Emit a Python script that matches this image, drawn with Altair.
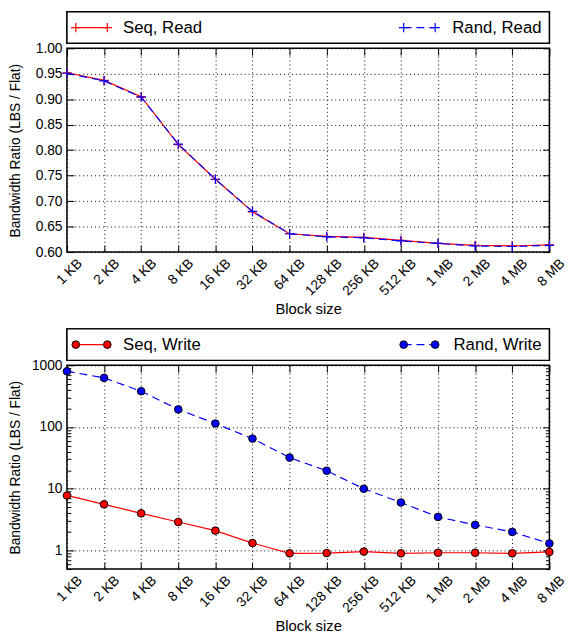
import altair as alt
import pandas as pd

# ---------------- data ----------------
block_sizes = ["1 KB", "2 KB", "4 KB", "8 KB", "16 KB", "32 KB", "64 KB",
               "128 KB", "256 KB", "512 KB", "1 MB", "2 MB", "4 MB", "8 MB"]
seq_read = [0.952, 0.937, 0.905, 0.811, 0.743, 0.679, 0.636,
            0.631, 0.629, 0.623, 0.617, 0.613, 0.612, 0.614]
rand_read = [0.951, 0.936, 0.904, 0.812, 0.743, 0.680, 0.636,
             0.630, 0.628, 0.622, 0.617, 0.612, 0.611, 0.613]
seq_write = [7.8, 5.6, 4.0, 2.9, 2.1, 1.32, 0.90,
             0.91, 0.96, 0.90, 0.92, 0.92, 0.90, 0.95]
rand_write = [800, 625, 380, 193, 114, 65, 32,
              19.6, 10, 6.0, 3.5, 2.6, 2.0, 1.3]
read_names = ["Seq, Read", "Rand, Read"]
write_names = ["Seq, Write", "Rand, Write"]
read_ticks = [0.60, 0.65, 0.70, 0.75, 0.80, 0.85, 0.90, 0.95, 1.00]
read_domain = [0.60, 1.00]
write_ticks = [0.5, 0.6, 0.7, 0.8, 0.9,
               1, 2, 3, 4, 5, 6, 7, 8, 9,
               10, 20, 30, 40, 50, 60, 70, 80, 90,
               100, 200, 300, 400, 500, 600, 700, 800, 900, 1000]
write_domain = [0.5, 1000]
x_title = "Block size"
y_title = "Bandwidth Ratio (LBS / Flat)"

# ---------------- style ----------------
W, H = 490, 207
FONT = "Liberation Sans"
RED, BLUE = "#ff0000", "#0000ff"
PLUS = "M-1,0L1,0M0,-1L0,1"
MAJOR_TEST = "abs(log(datum.value)/LN10 - round(log(datum.value)/LN10)) < 1e-6"


def panel(seq_vals, rand_vals, names, yscale, yticks, ylog, marker):
    df_seq = pd.DataFrame({"block": block_sizes, "value": seq_vals, "series": names[0]})
    df_rand = pd.DataFrame({"block": block_sizes, "value": rand_vals, "series": names[1]})

    xsc = alt.Scale(type="point", padding=0, domain=block_sizes)

    if ylog:
        ylab_axis = dict(values=yticks, labelExpr=f"({MAJOR_TEST}) ? format(datum.value, 'd') : ''",
                         gridOpacity={"condition": {"test": MAJOR_TEST, "value": 1}, "value": 0})
        tick_size = {"condition": {"test": MAJOR_TEST, "value": 7}, "value": 4}
    else:
        ylab_axis = dict(values=yticks, format=".2f")
        tick_size = 7

    # axes with labels + grid
    x_main = alt.Axis(title=x_title, labelAngle=-45, labelAlign="right", labelBaseline="middle",
                      labelOffset=13, labelPadding=9, ticks=False, domain=False,
                      grid=True, gridDash=[1, 3], gridColor="black", gridWidth=1,
                      labelFont=FONT, labelFontSize=14, labelColor="black",
                      titleFont=FONT, titleFontSize=15, titleFontWeight="normal",
                      titleColor="black", titlePadding=4)
    y_main = alt.Axis(title=y_title, ticks=False, domain=False, labelPadding=5,
                      minExtent=38, maxExtent=38,
                      grid=True, gridDash=[1, 3], gridColor="black", gridWidth=1,
                      labelFont=FONT, labelFontSize=14, labelColor="black",
                      titleFont=FONT, titleFontSize=14, titleFontWeight="normal",
                      titleColor="black", titlePadding=7, **ylab_axis)
    # inward ticks (bottom & left), drawn by opposite-orient axes moved across the plot
    x_t1 = alt.Axis(orient="top", offset=-H, labels=False, domain=False, grid=False,
                    title=None, tickSize=7, tickColor="black")
    y_t1 = alt.Axis(orient="right", offset=-W, labels=False, domain=False, grid=False,
                    title=None, tickSize=tick_size, tickColor="black", values=yticks)
    # inward ticks (top & right)
    x_t2 = alt.Axis(orient="bottom", offset=-H, labels=False, domain=False, grid=False,
                    title=None, tickSize=7, tickColor="black")
    y_t2 = alt.Axis(orient="left", offset=-W, labels=False, domain=False, grid=False,
                    title=None, tickSize=tick_size, tickColor="black", values=yticks)

    def enc(xaxis, yaxis):
        return dict(x=alt.X("block:N", scale=xsc, axis=xaxis),
                    y=alt.Y("value:Q", scale=yscale, axis=yaxis))

    seq_line = alt.Chart(df_seq).mark_line(color=RED, strokeWidth=1.2).encode(**enc(x_main, y_main))
    rand_line = alt.Chart(df_rand).mark_line(color=BLUE, strokeWidth=1.2, strokeDash=[8, 5]).encode(
        **enc(x_t1, y_t1))
    if marker == "plus":
        seq_pts = alt.Chart(df_seq).mark_point(shape=PLUS, size=90, filled=False, color=RED,
                                               strokeWidth=1.2, opacity=1).encode(**enc(None, None))
        rand_pts = alt.Chart(df_rand).mark_point(shape=PLUS, size=90, filled=False, color=BLUE,
                                                 strokeWidth=1.2, opacity=1).encode(**enc(x_t2, y_t2))
    else:
        seq_pts = alt.Chart(df_seq).mark_point(shape="circle", size=60, filled=True, fill=RED,
                                               stroke="black", strokeWidth=1, opacity=1).encode(**enc(None, None))
        rand_pts = alt.Chart(df_rand).mark_point(shape="circle", size=60, filled=True, fill=BLUE,
                                                 stroke="black", strokeWidth=1, opacity=1).encode(**enc(x_t2, y_t2))

    # legend box above the plot
    ly = -21
    box = alt.Chart(pd.DataFrame({"series": names})).mark_rect(
        fill="white", stroke="black", strokeWidth=1.5).encode(
        x=alt.value(0), x2=alt.value(W), y=alt.value(-37), y2=alt.value(-5))
    leg_layers = [box]
    entries = [(names[0], RED, 9, 41, 57, "left", None),
               (names[1], BLUE, 342, 374, 482, "right", [8, 5])]
    for name, col, xa, xb, tx, al, dash in entries:
        d = pd.DataFrame({"series": [name]})
        rule_kw = dict(color=col, strokeWidth=1.2)
        if dash:
            rule_kw["strokeDash"] = dash
        leg_layers.append(alt.Chart(d).mark_rule(**rule_kw).encode(
            x=alt.value(xa), x2=alt.value(xb), y=alt.value(ly)))
        for px in (xa, xb):
            if marker == "plus":
                m = alt.Chart(d).mark_point(shape=PLUS, size=90, filled=False, color=col,
                                            strokeWidth=1.2, opacity=1)
            else:
                m = alt.Chart(d).mark_point(shape="circle", size=60, filled=True, fill=col,
                                            stroke="black", strokeWidth=1, opacity=1)
            leg_layers.append(m.encode(x=alt.value(px), y=alt.value(ly)))
        leg_layers.append(alt.Chart(d).mark_text(align=al, baseline="middle", font=FONT,
                                                 fontSize=17, color="black").encode(
            text="series:N", x=alt.value(tx), y=alt.value(ly)))

    return alt.layer(seq_line, seq_pts, rand_line, rand_pts, *leg_layers).resolve_axis(
        x="independent", y="independent").properties(width=W, height=H)


top = panel(seq_read, rand_read, read_names,
            alt.Scale(domain=read_domain, zero=False, nice=False), read_ticks, False, "plus")
bottom = panel(seq_write, rand_write, write_names,
               alt.Scale(type="log", domain=write_domain, nice=False), write_ticks, True, "circle")

chart = alt.vconcat(top, bottom, spacing=9).configure(
    padding={"left": 8, "top": 5, "right": 5, "bottom": 2}
).configure_view(stroke="black", strokeWidth=1.5)

chart.save("out.html", embed_options={"renderer": "svg", "actions": False})
